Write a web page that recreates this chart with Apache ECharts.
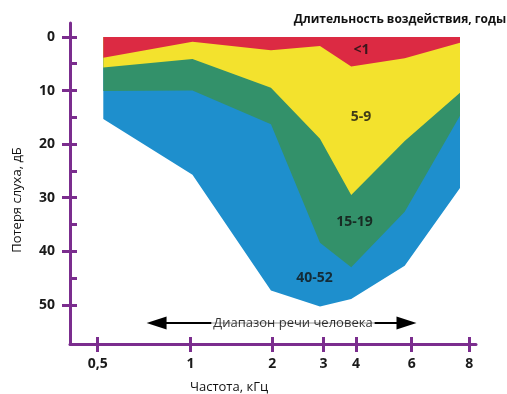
<!DOCTYPE html>
<html>
<head>
<meta charset="utf-8">
<script src="https://cdn.jsdelivr.net/npm/echarts@6/dist/echarts.min.js"></script>
<style>
html, body { margin: 0; padding: 0; background: #fff; }
#chart { width: 507px; height: 394px; }
</style>
</head>
<body>
<div id="chart"></div>
<script>
// частоты и их место на оси (ось неравномерная, как на аудиограмме)
const freqLabels = ['0,5', '1', '2', '3', '4', '6', '8'];
const freqPos = [0, 1, 1.88, 2.43, 2.78, 3.38, 4];

// нижняя граница каждой полосы, дБ (верх у всех полос = 0)
const lossUnder1 = [3.9, 0.9, 2.5, 1.7, 5.5, 4.0, 1.1];
const loss5to9 = [5.7, 4.1, 9.5, 19.0, 29.5, 19.4, 10.4];
const loss15to19 = [10.1, 10.0, 16.3, 38.4, 43.0, 32.6, 14.7];
const loss40to52 = [15.3, 25.7, 47.3, 50.3, 48.9, 42.7, 28.2];

const bandNames = ['<1', '5-9', '15-19', '40-52'];
// подписи полос: [позиция по x, дБ]
const bandLabelAt = [[2.84, 2.4], [2.835, 14.9], [2.765, 34.6], [2.333, 45.0]];

const yMajor = [0, 10, 20, 30, 40, 50];
const yAll = [0, 5, 10, 15, 20, 25, 30, 35, 40, 45, 50];

// диапазон речи (стрелка)
const speechFrom = 0.634;
const speechTo = 3.324;
const speechY = 53.4;
const speechMid = 2.102;

const bandColors = ['#dc2a43', '#f3e22d', '#33916a', '#1e8fcd'];
const axisColor = '#7b2d8e';
const font = '"Open Sans", "Noto Sans", sans-serif';

const xMin = -0.298, xMax = 4.072;
const yMin = -2.6, yMax = 57.3;

const bands = [lossUnder1, loss5to9, loss15to19, loss40to52];

// полосы рисуются в своей сетке: в оригинале рисунок полос чуть уже оси
const series = bands.map(function(vals, i) {
  return {
    name: bandNames[i],
    type: 'line',
    xAxisIndex: 2,
    yAxisIndex: 2,
    data: vals.map(function(v, j) { return [freqPos[j], v] }),
    symbol: 'none',
    lineStyle: { width: 0 },
    areaStyle: { color: bandColors[i], opacity: 1 },
    z: 10 - i,
    silent: true
  }
})

series.push({
  type: 'line',
  data: [],
  z: 20,
  markLine: {
    silent: true,
    symbol: ['triangle', 'triangle'],
    symbolSize: [13, 20],
    lineStyle: { color: '#000', width: 2, type: 'solid' },
    label: { show: false },
    emphasis: { disabled: true },
    data: [[{ coord: [speechFrom, speechY] }, { coord: [speechTo, speechY] }]]
  }
})

series.push({
  type: 'scatter',
  z: 30,
  silent: true,
  symbolSize: 1,
  itemStyle: { color: 'transparent' },
  data: bandLabelAt.map(function(p, i) { return { value: p, name: bandNames[i] } }),
  label: {
    show: true,
    position: 'inside',
    formatter: function(p) { return p.name },
    fontFamily: font,
    fontSize: 14,
    fontWeight: 'bold',
    color: '#111'
  }
})

series.push({
  type: 'scatter',
  z: 31,
  silent: true,
  symbolSize: 1,
  itemStyle: { color: 'transparent' },
  data: [{ value: [speechMid, speechY], name: 'Диапазон речи человека' }],
  label: {
    show: true,
    position: 'inside',
    formatter: function(p) { return p.name },
    fontFamily: font,
    fontSize: 13,
    color: '#000',
    backgroundColor: '#fff',
    padding: [1, 2]
  }
})

const hiddenAxis = {
  axisLine: { show: false, onZero: false },
  axisTick: { show: false },
  axisLabel: { show: false },
  splitLine: { show: false }
}

const chart = echarts.init(document.getElementById('chart'))
chart.setOption({
  animation: false,
  grid: [
    { left: 70, top: 23, width: 406, height: 321 },
    { left: 70, top: 23, width: 406, height: 321 },
    { left: 103.3, top: 23, width: 356.7, height: 321 }
  ],
  xAxis: [
    {
      type: 'value',
      gridIndex: 0,
      min: xMin,
      max: xMax,
      axisLine: { show: true, onZero: false, lineStyle: { color: axisColor, width: 3 } },
      axisTick: { show: true, length: 8, customValues: freqPos, lineStyle: { color: axisColor, width: 3 } },
      axisLabel: {
        customValues: freqPos,
        formatter: function(v) { return freqLabels[freqPos.indexOf(v)] },
        margin: 13,
        fontFamily: font,
        fontSize: 14,
        fontWeight: 'bold',
        color: '#1a1a1a'
      },
      splitLine: { show: false }
    },
    {
      type: 'value',
      gridIndex: 1,
      min: xMin,
      max: xMax,
      axisLine: { show: false, onZero: false },
      axisTick: { show: true, inside: true, length: 7, customValues: freqPos, lineStyle: { color: axisColor, width: 3 } },
      axisLabel: { show: false },
      splitLine: { show: false }
    },
    Object.assign({ type: 'value', gridIndex: 2, min: 0, max: 4 }, hiddenAxis)
  ],
  yAxis: [
    {
      type: 'value',
      gridIndex: 0,
      inverse: true,
      min: yMin,
      max: yMax,
      axisLine: { show: true, onZero: false, lineStyle: { color: axisColor, width: 3 } },
      axisTick: { show: true, length: 8, customValues: yMajor, lineStyle: { color: axisColor, width: 3 } },
      axisLabel: {
        customValues: yMajor,
        margin: 15,
        fontFamily: font,
        fontSize: 14,
        fontWeight: 'bold',
        color: '#1a1a1a'
      },
      splitLine: { show: false }
    },
    {
      type: 'value',
      gridIndex: 1,
      inverse: true,
      min: yMin,
      max: yMax,
      axisLine: { show: false, onZero: false },
      axisTick: { show: true, inside: true, length: 7, customValues: yAll, lineStyle: { color: axisColor, width: 3 } },
      axisLabel: { show: false },
      splitLine: { show: false }
    },
    Object.assign({ type: 'value', gridIndex: 2, inverse: true, min: yMin, max: yMax }, hiddenAxis)
  ],
  graphic: [
    {
      type: 'text', x: 400, y: 20,
      style: { text: 'Длительность воздействия, годы', align: 'center', verticalAlign: 'middle',
        fontFamily: font, fontSize: 12, fontWeight: 'bold', fill: '#111' }
    },
    {
      type: 'text', x: 229, y: 387,
      style: { text: 'Частота, кГц', align: 'center', verticalAlign: 'middle',
        fontFamily: font, fontSize: 13, fill: '#111' }
    },
    {
      type: 'text', x: 17, y: 200, rotation: Math.PI / 2,
      style: { text: 'Потеря слуха, дБ', align: 'center', verticalAlign: 'middle',
        fontFamily: font, fontSize: 13, fill: '#111' }
    }
  ],
  series: series
})
</script>
</body>
</html>
